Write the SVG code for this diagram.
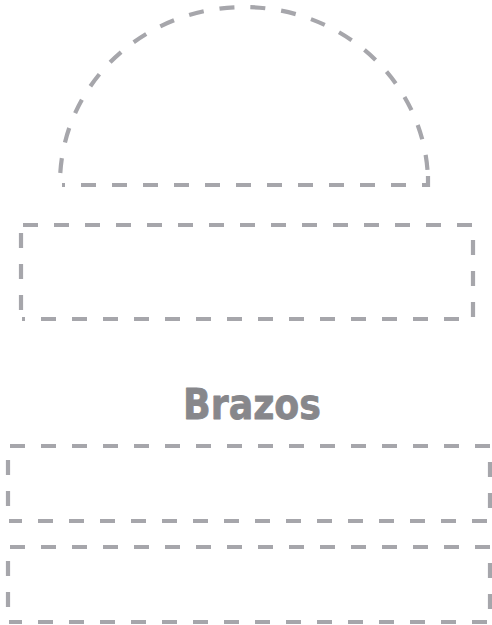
<svg xmlns="http://www.w3.org/2000/svg" width="492" height="625" viewBox="0 0 492 625">
<style>
.d{fill:none;stroke:#a6a6ab;stroke-width:4.2;stroke-dasharray:15 16}
.t{font-family:"DejaVu Sans",sans-serif;font-weight:bold;font-size:42px;fill:#87878b;stroke:#87878b;stroke-width:0.8;stroke-linejoin:round}
</style>
<rect width="492" height="625" fill="#ffffff"/>
<g id="dome">
<path class="d" d="M60.3,173 A184,176 0 0 1 427.7,173"/>
<path class="d" d="M428,176 V185 H62"/>
</g>
<g id="box-top">
<path class="d" d="M23,225 H473 V319 H22"/>
<path class="d" d="M21,319 V225" style="stroke-dashoffset:-9"/>
</g>
<g id="label">
<text class="t" x="252" y="418.5" text-anchor="middle" textLength="138" lengthAdjust="spacingAndGlyphs">Brazos</text>
</g>
<g id="arm-1">
<path class="d" d="M10,446 H490 V521 H9"/>
<path class="d" d="M8,521 V446" style="stroke-dashoffset:-15"/>
</g>
<g id="arm-2">
<path class="d" d="M10,547 H490 V622 H9"/>
<path class="d" d="M8,622 V547" style="stroke-dashoffset:-15"/>
</g>
</svg>
